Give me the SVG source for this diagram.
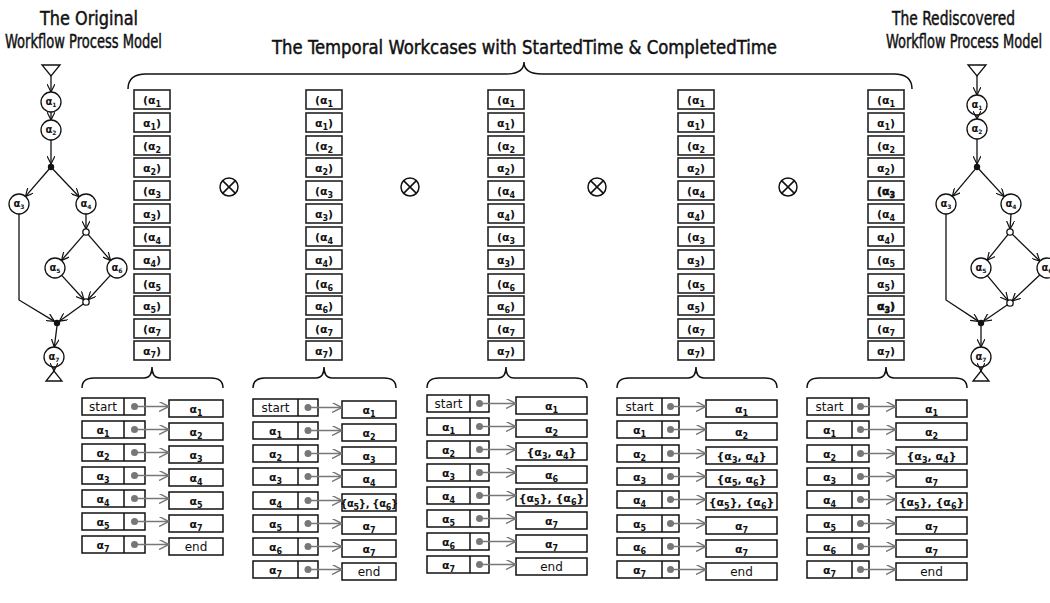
<svg xmlns="http://www.w3.org/2000/svg" width="1050" height="603" viewBox="0 0 1050 603">
<defs>
<style>
.title{font-family:"DejaVu Sans Condensed","DejaVu Sans",sans-serif;font-stretch:condensed;font-size:19px;fill:#111;stroke:#111;stroke-width:0.45}
.cb{fill:#fff;stroke:#222;stroke-width:1.6}
.ct{font-family:"DejaVu Sans",sans-serif;font-size:11px;font-weight:bold;text-anchor:middle;fill:#111}
.s{font-size:8px}
.hb{stroke:#000;stroke-width:0.5}
.tb{fill:#fff;stroke:#111;stroke-width:1.5}
.tt{font-family:"DejaVu Sans",sans-serif;font-size:11px;font-weight:bold;text-anchor:middle;fill:#111}
.tn{font-size:10px;letter-spacing:-0.3px}
.tw{font-weight:normal;font-size:12px}
.dot{fill:#777}
.con{stroke:#777;stroke-width:1.3;fill:none;marker-end:url(#ga)}
.edge{stroke:#111;stroke-width:1.3;fill:none;marker-end:url(#ba)}
.nd{fill:#fff;stroke:#111;stroke-width:1.3}
.nt{font-family:"DejaVu Sans",sans-serif;font-size:10px;font-weight:bold;text-anchor:middle;fill:#111}
.ns{font-size:6px}
.brace{fill:none;stroke:#111;stroke-width:1.5}
.ox{fill:none;stroke:#111;stroke-width:1.5}
</style>
<marker id="ba" viewBox="0 0 10 10" refX="10" refY="5" markerWidth="8" markerHeight="8" markerUnits="userSpaceOnUse" orient="auto"><path d="M0,0 L10,5 L0,10" fill="none" stroke="#111" stroke-width="1.5"/></marker>
<marker id="ga" viewBox="0 0 10 10" refX="10" refY="5" markerWidth="10" markerHeight="10" markerUnits="userSpaceOnUse" orient="auto"><path d="M0,0 L10,5 L0,10" fill="none" stroke="#777" stroke-width="1.4"/></marker>
</defs>
<rect width="1050" height="603" fill="#fff"/>

<g id="titles">
<text class="title" x="40" y="25" textLength="98" lengthAdjust="spacingAndGlyphs">The Original</text>
<text class="title" x="5" y="48" textLength="157" lengthAdjust="spacingAndGlyphs">Workflow Process Model</text>
<text class="title" x="272" y="54" textLength="505" lengthAdjust="spacingAndGlyphs">The Temporal Workcases with StartedTime &amp; CompletedTime</text>
<text class="title" x="892" y="25" textLength="123" lengthAdjust="spacingAndGlyphs">The Rediscovered</text>
<text class="title" x="886" y="48" textLength="156" lengthAdjust="spacingAndGlyphs">Workflow Process Model</text>
</g>

<g id="braces">
<path class="brace" d="M128,89 Q128,74 146,74 L506,74 Q524,74 524,62 Q524,74 542,74 L894,74 Q912,74 912,89"/>
<path class="brace" d="M82,388 Q82,378 94,378 L144,378 Q152,378 152,367 Q152,378 160,378 L211,378 Q223,378 223,388"/>
<path class="brace" d="M253,388 Q253,378 265,378 L316,378 Q324,378 324,367 Q324,378 332,378 L384,378 Q396,378 396,388"/>
<path class="brace" d="M427,388 Q427,378 439,378 L498,378 Q506,378 506,367 Q506,378 514,378 L575,378 Q587,378 587,388"/>
<path class="brace" d="M617,388 Q617,378 629,378 L688,378 Q696,378 696,367 Q696,378 704,378 L765,378 Q777,378 777,388"/>
<path class="brace" d="M807,388 Q807,378 819,378 L878,378 Q886,378 886,367 Q886,378 894,378 L955,378 Q967,378 967,388"/>
</g>

<g id="ops">
<g id="op1"><circle class="ox" cx="229" cy="187" r="9"/><path class="ox" d="M222.6,180.6 L235.4,193.4 M235.4,180.6 L222.6,193.4"/></g>
<g id="op2"><circle class="ox" cx="410" cy="187" r="9"/><path class="ox" d="M403.6,180.6 L416.4,193.4 M416.4,180.6 L403.6,193.4"/></g>
<g id="op3"><circle class="ox" cx="597" cy="187" r="9"/><path class="ox" d="M590.6,180.6 L603.4,193.4 M603.4,180.6 L590.6,193.4"/></g>
<g id="op4"><circle class="ox" cx="788" cy="187" r="9"/><path class="ox" d="M781.6,180.6 L794.4,193.4 M794.4,180.6 L781.6,193.4"/></g>
</g>

<g id="workcase1">
<rect class="cb" x="134" y="90" width="36" height="19"/><text class="ct" x="152" y="104">(α<tspan class="s" dy="3">1</tspan></text>
<rect class="cb" x="134" y="113" width="36" height="19"/><text class="ct" x="152" y="127">α<tspan class="s" dy="3">1</tspan><tspan dy="-3">)</tspan></text>
<rect class="cb" x="134" y="136" width="36" height="19"/><text class="ct" x="152" y="150">(α<tspan class="s" dy="3">2</tspan></text>
<rect class="cb" x="134" y="158" width="36" height="19"/><text class="ct" x="152" y="172">α<tspan class="s" dy="3">2</tspan><tspan dy="-3">)</tspan></text>
<rect class="cb" x="134" y="181" width="36" height="19"/><text class="ct" x="152" y="195">(α<tspan class="s" dy="3">3</tspan></text>
<rect class="cb" x="134" y="204" width="36" height="19"/><text class="ct" x="152" y="218">α<tspan class="s" dy="3">3</tspan><tspan dy="-3">)</tspan></text>
<rect class="cb" x="134" y="227" width="36" height="19"/><text class="ct" x="152" y="241">(α<tspan class="s" dy="3">4</tspan></text>
<rect class="cb" x="134" y="250" width="36" height="19"/><text class="ct" x="152" y="264">α<tspan class="s" dy="3">4</tspan><tspan dy="-3">)</tspan></text>
<rect class="cb" x="134" y="274" width="36" height="19"/><text class="ct" x="152" y="288">(α<tspan class="s" dy="3">5</tspan></text>
<rect class="cb" x="134" y="296" width="36" height="19"/><text class="ct" x="152" y="310">α<tspan class="s" dy="3">5</tspan><tspan dy="-3">)</tspan></text>
<rect class="cb" x="134" y="319" width="36" height="19"/><text class="ct" x="152" y="333">(α<tspan class="s" dy="3">7</tspan></text>
<rect class="cb" x="134" y="341" width="36" height="19"/><text class="ct" x="152" y="355">α<tspan class="s" dy="3">7</tspan><tspan dy="-3">)</tspan></text>
</g>

<g id="workcase2">
<rect class="cb" x="306" y="90" width="36" height="19"/><text class="ct" x="324" y="104">(α<tspan class="s" dy="3">1</tspan></text>
<rect class="cb" x="306" y="113" width="36" height="19"/><text class="ct" x="324" y="127">α<tspan class="s" dy="3">1</tspan><tspan dy="-3">)</tspan></text>
<rect class="cb" x="306" y="136" width="36" height="19"/><text class="ct" x="324" y="150">(α<tspan class="s" dy="3">2</tspan></text>
<rect class="cb" x="306" y="158" width="36" height="19"/><text class="ct" x="324" y="172">α<tspan class="s" dy="3">2</tspan><tspan dy="-3">)</tspan></text>
<rect class="cb" x="306" y="181" width="36" height="19"/><text class="ct" x="324" y="195">(α<tspan class="s" dy="3">3</tspan></text>
<rect class="cb" x="306" y="204" width="36" height="19"/><text class="ct" x="324" y="218">α<tspan class="s" dy="3">3</tspan><tspan dy="-3">)</tspan></text>
<rect class="cb" x="306" y="227" width="36" height="19"/><text class="ct" x="324" y="241">(α<tspan class="s" dy="3">4</tspan></text>
<rect class="cb" x="306" y="250" width="36" height="19"/><text class="ct" x="324" y="264">α<tspan class="s" dy="3">4</tspan><tspan dy="-3">)</tspan></text>
<rect class="cb" x="306" y="274" width="36" height="19"/><text class="ct" x="324" y="288">(α<tspan class="s" dy="3">6</tspan></text>
<rect class="cb" x="306" y="296" width="36" height="19"/><text class="ct" x="324" y="310">α<tspan class="s" dy="3">6</tspan><tspan dy="-3">)</tspan></text>
<rect class="cb" x="306" y="319" width="36" height="19"/><text class="ct" x="324" y="333">(α<tspan class="s" dy="3">7</tspan></text>
<rect class="cb" x="306" y="341" width="36" height="19"/><text class="ct" x="324" y="355">α<tspan class="s" dy="3">7</tspan><tspan dy="-3">)</tspan></text>
</g>

<g id="workcase3">
<rect class="cb" x="488" y="90" width="36" height="19"/><text class="ct" x="506" y="104">(α<tspan class="s" dy="3">1</tspan></text>
<rect class="cb" x="488" y="113" width="36" height="19"/><text class="ct" x="506" y="127">α<tspan class="s" dy="3">1</tspan><tspan dy="-3">)</tspan></text>
<rect class="cb" x="488" y="136" width="36" height="19"/><text class="ct" x="506" y="150">(α<tspan class="s" dy="3">2</tspan></text>
<rect class="cb" x="488" y="158" width="36" height="19"/><text class="ct" x="506" y="172">α<tspan class="s" dy="3">2</tspan><tspan dy="-3">)</tspan></text>
<rect class="cb" x="488" y="181" width="36" height="19"/><text class="ct" x="506" y="195">(α<tspan class="s" dy="3">4</tspan></text>
<rect class="cb" x="488" y="204" width="36" height="19"/><text class="ct" x="506" y="218">α<tspan class="s" dy="3">4</tspan><tspan dy="-3">)</tspan></text>
<rect class="cb" x="488" y="227" width="36" height="19"/><text class="ct" x="506" y="241">(α<tspan class="s" dy="3">3</tspan></text>
<rect class="cb" x="488" y="250" width="36" height="19"/><text class="ct" x="506" y="264">α<tspan class="s" dy="3">3</tspan><tspan dy="-3">)</tspan></text>
<rect class="cb" x="488" y="274" width="36" height="19"/><text class="ct" x="506" y="288">(α<tspan class="s" dy="3">6</tspan></text>
<rect class="cb" x="488" y="296" width="36" height="19"/><text class="ct" x="506" y="310">α<tspan class="s" dy="3">6</tspan><tspan dy="-3">)</tspan></text>
<rect class="cb" x="488" y="319" width="36" height="19"/><text class="ct" x="506" y="333">(α<tspan class="s" dy="3">7</tspan></text>
<rect class="cb" x="488" y="341" width="36" height="19"/><text class="ct" x="506" y="355">α<tspan class="s" dy="3">7</tspan><tspan dy="-3">)</tspan></text>
</g>

<g id="workcase4">
<rect class="cb" x="678" y="90" width="36" height="19"/><text class="ct" x="696" y="104">(α<tspan class="s" dy="3">1</tspan></text>
<rect class="cb" x="678" y="113" width="36" height="19"/><text class="ct" x="696" y="127">α<tspan class="s" dy="3">1</tspan><tspan dy="-3">)</tspan></text>
<rect class="cb" x="678" y="136" width="36" height="19"/><text class="ct" x="696" y="150">(α<tspan class="s" dy="3">2</tspan></text>
<rect class="cb" x="678" y="158" width="36" height="19"/><text class="ct" x="696" y="172">α<tspan class="s" dy="3">2</tspan><tspan dy="-3">)</tspan></text>
<rect class="cb" x="678" y="181" width="36" height="19"/><text class="ct" x="696" y="195">(α<tspan class="s" dy="3">4</tspan></text>
<rect class="cb" x="678" y="204" width="36" height="19"/><text class="ct" x="696" y="218">α<tspan class="s" dy="3">4</tspan><tspan dy="-3">)</tspan></text>
<rect class="cb" x="678" y="227" width="36" height="19"/><text class="ct" x="696" y="241">(α<tspan class="s" dy="3">3</tspan></text>
<rect class="cb" x="678" y="250" width="36" height="19"/><text class="ct" x="696" y="264">α<tspan class="s" dy="3">3</tspan><tspan dy="-3">)</tspan></text>
<rect class="cb" x="678" y="274" width="36" height="19"/><text class="ct" x="696" y="288">(α<tspan class="s" dy="3">5</tspan></text>
<rect class="cb" x="678" y="296" width="36" height="19"/><text class="ct" x="696" y="310">α<tspan class="s" dy="3">5</tspan><tspan dy="-3">)</tspan></text>
<rect class="cb" x="678" y="319" width="36" height="19"/><text class="ct" x="696" y="333">(α<tspan class="s" dy="3">7</tspan></text>
<rect class="cb" x="678" y="341" width="36" height="19"/><text class="ct" x="696" y="355">α<tspan class="s" dy="3">7</tspan><tspan dy="-3">)</tspan></text>
</g>

<g id="workcase5">
<rect class="cb" x="868" y="90" width="36" height="19"/><text class="ct" x="886" y="104">(α<tspan class="s" dy="3">1</tspan></text>
<rect class="cb" x="868" y="113" width="36" height="19"/><text class="ct" x="886" y="127">α<tspan class="s" dy="3">1</tspan><tspan dy="-3">)</tspan></text>
<rect class="cb" x="868" y="136" width="36" height="19"/><text class="ct" x="886" y="150">(α<tspan class="s" dy="3">2</tspan></text>
<rect class="cb" x="868" y="158" width="36" height="19"/><text class="ct" x="886" y="172">α<tspan class="s" dy="3">2</tspan><tspan dy="-3">)</tspan></text>
<rect class="cb" x="868" y="181" width="36" height="19"/><text class="ct hb" x="886" y="195">(α<tspan class="s" dy="3">3</tspan></text>
<rect class="cb" x="868" y="204" width="36" height="19"/><text class="ct" x="886" y="218">(α<tspan class="s" dy="3">4</tspan></text>
<rect class="cb" x="868" y="227" width="36" height="19"/><text class="ct" x="886" y="241">α<tspan class="s" dy="3">4</tspan><tspan dy="-3">)</tspan></text>
<rect class="cb" x="868" y="250" width="36" height="19"/><text class="ct" x="886" y="264">(α<tspan class="s" dy="3">5</tspan></text>
<rect class="cb" x="868" y="274" width="36" height="19"/><text class="ct" x="886" y="288">α<tspan class="s" dy="3">5</tspan><tspan dy="-3">)</tspan></text>
<rect class="cb" x="868" y="296" width="36" height="19"/><text class="ct hb" x="886" y="310">α<tspan class="s" dy="3">3</tspan><tspan dy="-3">)</tspan></text>
<rect class="cb" x="868" y="319" width="36" height="19"/><text class="ct" x="886" y="333">(α<tspan class="s" dy="3">7</tspan></text>
<rect class="cb" x="868" y="341" width="36" height="19"/><text class="ct" x="886" y="355">α<tspan class="s" dy="3">7</tspan><tspan dy="-3">)</tspan></text>
</g>

<g id="original-model">
<polygon id="o-start" class="nd" points="42,65 60,65 51,76"/>
<g id="o-a1"><circle class="nd" cx="51" cy="102" r="10"/><text class="nt" x="51" y="105">α<tspan class="ns" dy="2">1</tspan></text></g>
<g id="o-a2"><circle class="nd" cx="51" cy="130" r="10"/><text class="nt" x="51" y="133">α<tspan class="ns" dy="2">2</tspan></text></g>
<circle id="o-and1" cx="51" cy="167" r="3.2" fill="#111"/>
<g id="o-a3"><circle class="nd" cx="19" cy="204" r="10"/><text class="nt" x="19" y="207">α<tspan class="ns" dy="2">3</tspan></text></g>
<g id="o-a4"><circle class="nd" cx="86" cy="204" r="10"/><text class="nt" x="86" y="207">α<tspan class="ns" dy="2">4</tspan></text></g>
<circle id="o-or1" class="nd" cx="86" cy="232" r="3.2"/>
<g id="o-a5"><circle class="nd" cx="55" cy="268" r="10"/><text class="nt" x="55" y="271">α<tspan class="ns" dy="2">5</tspan></text></g>
<g id="o-a6"><circle class="nd" cx="117" cy="268" r="10"/><text class="nt" x="117" y="271">α<tspan class="ns" dy="2">6</tspan></text></g>
<circle id="o-or2" class="nd" cx="86" cy="302" r="3.2"/>
<circle id="o-and2" cx="57" cy="323" r="3.2" fill="#111"/>
<g id="o-a7"><circle class="nd" cx="54" cy="357" r="10"/><text class="nt" x="54" y="360">α<tspan class="ns" dy="2">7</tspan></text></g>
<polygon id="o-end" class="nd" points="54,371 46,381 62,381"/>
</g>

<g id="rediscovered-model">
<polygon id="r-start" class="nd" points="968,65 986,65 977,76"/>
<g id="r-a1"><circle class="nd" cx="977" cy="105" r="10"/><text class="nt" x="977" y="108">α<tspan class="ns" dy="2">1</tspan></text></g>
<g id="r-a2"><circle class="nd" cx="977" cy="129" r="10"/><text class="nt" x="977" y="132">α<tspan class="ns" dy="2">2</tspan></text></g>
<circle id="r-and1" cx="977" cy="167" r="3.2" fill="#111"/>
<g id="r-a3"><circle class="nd" cx="946" cy="204" r="10"/><text class="nt" x="946" y="207">α<tspan class="ns" dy="2">3</tspan></text></g>
<g id="r-a4"><circle class="nd" cx="1011" cy="204" r="10"/><text class="nt" x="1011" y="207">α<tspan class="ns" dy="2">4</tspan></text></g>
<circle id="r-or1" class="nd" cx="1010" cy="232" r="3.2"/>
<g id="r-a5"><circle class="nd" cx="981" cy="268" r="10"/><text class="nt" x="981" y="271">α<tspan class="ns" dy="2">5</tspan></text></g>
<g id="r-a6"><circle class="nd" cx="1047" cy="268" r="10"/><text class="nt" x="1047" y="271">α<tspan class="ns" dy="2">6</tspan></text></g>
<circle id="r-or2" class="nd" cx="1010" cy="303" r="3.2"/>
<circle id="r-and2" cx="981" cy="323" r="3.2" fill="#111"/>
<g id="r-a7"><circle class="nd" cx="981" cy="357" r="10"/><text class="nt" x="981" y="360">α<tspan class="ns" dy="2">7</tspan></text></g>
<polygon id="r-end" class="nd" points="981,371 973,381 989,381"/>
</g>

<g id="table1">
<rect class="tb" x="82" y="398" width="63" height="17"/><line class="tb" x1="124" y1="398" x2="124" y2="415"/><text class="tt tw" x="103" y="411">start</text><circle class="dot" cx="134.5" cy="406.5" r="3.5"/><rect class="tb" x="169" y="400" width="54" height="17"/><text class="tt" x="196" y="413">α<tspan class="s" dy="3">1</tspan></text>
<rect class="tb" x="82" y="421" width="63" height="17"/><line class="tb" x1="124" y1="421" x2="124" y2="438"/><text class="tt" x="103" y="434">α<tspan class="s" dy="3">1</tspan></text><circle class="dot" cx="134.5" cy="429.5" r="3.5"/><rect class="tb" x="169" y="423" width="54" height="17"/><text class="tt" x="196" y="436">α<tspan class="s" dy="3">2</tspan></text>
<rect class="tb" x="82" y="444" width="63" height="17"/><line class="tb" x1="124" y1="444" x2="124" y2="461"/><text class="tt" x="103" y="457">α<tspan class="s" dy="3">2</tspan></text><circle class="dot" cx="134.5" cy="452.5" r="3.5"/><rect class="tb" x="169" y="446" width="54" height="17"/><text class="tt" x="196" y="459">α<tspan class="s" dy="3">3</tspan></text>
<rect class="tb" x="82" y="467" width="63" height="17"/><line class="tb" x1="124" y1="467" x2="124" y2="484"/><text class="tt" x="103" y="480">α<tspan class="s" dy="3">3</tspan></text><circle class="dot" cx="134.5" cy="475.5" r="3.5"/><rect class="tb" x="169" y="469" width="54" height="17"/><text class="tt" x="196" y="482">α<tspan class="s" dy="3">4</tspan></text>
<rect class="tb" x="82" y="490" width="63" height="17"/><line class="tb" x1="124" y1="490" x2="124" y2="507"/><text class="tt" x="103" y="503">α<tspan class="s" dy="3">4</tspan></text><circle class="dot" cx="134.5" cy="498.5" r="3.5"/><rect class="tb" x="169" y="492" width="54" height="17"/><text class="tt" x="196" y="505">α<tspan class="s" dy="3">5</tspan></text>
<rect class="tb" x="82" y="513" width="63" height="17"/><line class="tb" x1="124" y1="513" x2="124" y2="530"/><text class="tt" x="103" y="526">α<tspan class="s" dy="3">5</tspan></text><circle class="dot" cx="134.5" cy="521.5" r="3.5"/><rect class="tb" x="169" y="515" width="54" height="17"/><text class="tt" x="196" y="528">α<tspan class="s" dy="3">7</tspan></text>
<rect class="tb" x="82" y="536" width="63" height="17"/><line class="tb" x1="124" y1="536" x2="124" y2="553"/><text class="tt" x="103" y="549">α<tspan class="s" dy="3">7</tspan></text><circle class="dot" cx="134.5" cy="544.5" r="3.5"/><rect class="tb" x="169" y="538" width="54" height="17"/><text class="tt tw" x="196" y="551">end</text>
</g>

<g id="table2">
<rect class="tb" x="253" y="399" width="65" height="17"/><line class="tb" x1="298" y1="399" x2="298" y2="416"/><text class="tt tw" x="275.5" y="412">start</text><circle class="dot" cx="308" cy="407.5" r="3.5"/><rect class="tb" x="342" y="401" width="54" height="17"/><text class="tt" x="369" y="414">α<tspan class="s" dy="3">1</tspan></text>
<rect class="tb" x="253" y="422" width="65" height="17"/><line class="tb" x1="298" y1="422" x2="298" y2="439"/><text class="tt" x="275.5" y="435">α<tspan class="s" dy="3">1</tspan></text><circle class="dot" cx="308" cy="430.5" r="3.5"/><rect class="tb" x="342" y="424" width="54" height="17"/><text class="tt" x="369" y="437">α<tspan class="s" dy="3">2</tspan></text>
<rect class="tb" x="253" y="445" width="65" height="17"/><line class="tb" x1="298" y1="445" x2="298" y2="462"/><text class="tt" x="275.5" y="458">α<tspan class="s" dy="3">2</tspan></text><circle class="dot" cx="308" cy="453.5" r="3.5"/><rect class="tb" x="342" y="447" width="54" height="17"/><text class="tt" x="369" y="460">α<tspan class="s" dy="3">3</tspan></text>
<rect class="tb" x="253" y="468" width="65" height="17"/><line class="tb" x1="298" y1="468" x2="298" y2="485"/><text class="tt" x="275.5" y="481">α<tspan class="s" dy="3">3</tspan></text><circle class="dot" cx="308" cy="476.5" r="3.5"/><rect class="tb" x="342" y="470" width="54" height="17"/><text class="tt" x="369" y="483">α<tspan class="s" dy="3">4</tspan></text>
<rect class="tb" x="253" y="492" width="65" height="17"/><line class="tb" x1="298" y1="492" x2="298" y2="509"/><text class="tt" x="275.5" y="505">α<tspan class="s" dy="3">4</tspan></text><circle class="dot" cx="308" cy="500.5" r="3.5"/><rect class="tb" x="342" y="494" width="54" height="17"/><text class="tt tn" x="369" y="507">{α<tspan class="s" dy="3">5</tspan><tspan dy="-3">}, {α</tspan><tspan class="s" dy="3">6</tspan><tspan dy="-3">}</tspan></text>
<rect class="tb" x="253" y="515" width="65" height="17"/><line class="tb" x1="298" y1="515" x2="298" y2="532"/><text class="tt" x="275.5" y="528">α<tspan class="s" dy="3">5</tspan></text><circle class="dot" cx="308" cy="523.5" r="3.5"/><rect class="tb" x="342" y="517" width="54" height="17"/><text class="tt" x="369" y="530">α<tspan class="s" dy="3">7</tspan></text>
<rect class="tb" x="253" y="538" width="65" height="17"/><line class="tb" x1="298" y1="538" x2="298" y2="555"/><text class="tt" x="275.5" y="551">α<tspan class="s" dy="3">6</tspan></text><circle class="dot" cx="308" cy="546.5" r="3.5"/><rect class="tb" x="342" y="540" width="54" height="17"/><text class="tt" x="369" y="553">α<tspan class="s" dy="3">7</tspan></text>
<rect class="tb" x="253" y="561" width="65" height="17"/><line class="tb" x1="298" y1="561" x2="298" y2="578"/><text class="tt" x="275.5" y="574">α<tspan class="s" dy="3">7</tspan></text><circle class="dot" cx="308" cy="569.5" r="3.5"/><rect class="tb" x="342" y="563" width="54" height="17"/><text class="tt tw" x="369" y="576">end</text>
</g>

<g id="table3">
<rect class="tb" x="427" y="395" width="62" height="17"/><line class="tb" x1="470" y1="395" x2="470" y2="412"/><text class="tt tw" x="448.5" y="408">start</text><circle class="dot" cx="479.5" cy="403.5" r="3.5"/><rect class="tb" x="516" y="397" width="71" height="17"/><text class="tt" x="551.5" y="410">α<tspan class="s" dy="3">1</tspan></text>
<rect class="tb" x="427" y="418" width="62" height="17"/><line class="tb" x1="470" y1="418" x2="470" y2="435"/><text class="tt" x="448.5" y="431">α<tspan class="s" dy="3">1</tspan></text><circle class="dot" cx="479.5" cy="426.5" r="3.5"/><rect class="tb" x="516" y="420" width="71" height="17"/><text class="tt" x="551.5" y="433">α<tspan class="s" dy="3">2</tspan></text>
<rect class="tb" x="427" y="441" width="62" height="17"/><line class="tb" x1="470" y1="441" x2="470" y2="458"/><text class="tt" x="448.5" y="454">α<tspan class="s" dy="3">2</tspan></text><circle class="dot" cx="479.5" cy="449.5" r="3.5"/><rect class="tb" x="516" y="443" width="71" height="17"/><text class="tt" x="551.5" y="456">{α<tspan class="s" dy="3">3</tspan><tspan dy="-3">, α</tspan><tspan class="s" dy="3">4</tspan><tspan dy="-3">}</tspan></text>
<rect class="tb" x="427" y="464" width="62" height="17"/><line class="tb" x1="470" y1="464" x2="470" y2="481"/><text class="tt" x="448.5" y="477">α<tspan class="s" dy="3">3</tspan></text><circle class="dot" cx="479.5" cy="472.5" r="3.5"/><rect class="tb" x="516" y="466" width="71" height="17"/><text class="tt" x="551.5" y="479">α<tspan class="s" dy="3">6</tspan></text>
<rect class="tb" x="427" y="487" width="62" height="17"/><line class="tb" x1="470" y1="487" x2="470" y2="504"/><text class="tt" x="448.5" y="500">α<tspan class="s" dy="3">4</tspan></text><circle class="dot" cx="479.5" cy="495.5" r="3.5"/><rect class="tb" x="516" y="489" width="71" height="17"/><text class="tt" x="551.5" y="502">{α<tspan class="s" dy="3">5</tspan><tspan dy="-3">}, {α</tspan><tspan class="s" dy="3">6</tspan><tspan dy="-3">}</tspan></text>
<rect class="tb" x="427" y="510" width="62" height="17"/><line class="tb" x1="470" y1="510" x2="470" y2="527"/><text class="tt" x="448.5" y="523">α<tspan class="s" dy="3">5</tspan></text><circle class="dot" cx="479.5" cy="518.5" r="3.5"/><rect class="tb" x="516" y="512" width="71" height="17"/><text class="tt" x="551.5" y="525">α<tspan class="s" dy="3">7</tspan></text>
<rect class="tb" x="427" y="533" width="62" height="17"/><line class="tb" x1="470" y1="533" x2="470" y2="550"/><text class="tt" x="448.5" y="546">α<tspan class="s" dy="3">6</tspan></text><circle class="dot" cx="479.5" cy="541.5" r="3.5"/><rect class="tb" x="516" y="535" width="71" height="17"/><text class="tt" x="551.5" y="548">α<tspan class="s" dy="3">7</tspan></text>
<rect class="tb" x="427" y="556" width="62" height="17"/><line class="tb" x1="470" y1="556" x2="470" y2="573"/><text class="tt" x="448.5" y="569">α<tspan class="s" dy="3">7</tspan></text><circle class="dot" cx="479.5" cy="564.5" r="3.5"/><rect class="tb" x="516" y="558" width="71" height="17"/><text class="tt tw" x="551.5" y="571">end</text>
</g>

<g id="table4">
<rect class="tb" x="617" y="398" width="62" height="17"/><line class="tb" x1="662" y1="398" x2="662" y2="415"/><text class="tt tw" x="639.5" y="411">start</text><circle class="dot" cx="670.5" cy="406.5" r="3.5"/><rect class="tb" x="706" y="400" width="71" height="17"/><text class="tt" x="741.5" y="413">α<tspan class="s" dy="3">1</tspan></text>
<rect class="tb" x="617" y="421" width="62" height="17"/><line class="tb" x1="662" y1="421" x2="662" y2="438"/><text class="tt" x="639.5" y="434">α<tspan class="s" dy="3">1</tspan></text><circle class="dot" cx="670.5" cy="429.5" r="3.5"/><rect class="tb" x="706" y="423" width="71" height="17"/><text class="tt" x="741.5" y="436">α<tspan class="s" dy="3">2</tspan></text>
<rect class="tb" x="617" y="445" width="62" height="17"/><line class="tb" x1="662" y1="445" x2="662" y2="462"/><text class="tt" x="639.5" y="458">α<tspan class="s" dy="3">2</tspan></text><circle class="dot" cx="670.5" cy="453.5" r="3.5"/><rect class="tb" x="706" y="447" width="71" height="17"/><text class="tt" x="741.5" y="460">{α<tspan class="s" dy="3">3</tspan><tspan dy="-3">, α</tspan><tspan class="s" dy="3">4</tspan><tspan dy="-3">}</tspan></text>
<rect class="tb" x="617" y="468" width="62" height="17"/><line class="tb" x1="662" y1="468" x2="662" y2="485"/><text class="tt" x="639.5" y="481">α<tspan class="s" dy="3">3</tspan></text><circle class="dot" cx="670.5" cy="476.5" r="3.5"/><rect class="tb" x="706" y="470" width="71" height="17"/><text class="tt" x="741.5" y="483">{α<tspan class="s" dy="3">5</tspan><tspan dy="-3">, α</tspan><tspan class="s" dy="3">6</tspan><tspan dy="-3">}</tspan></text>
<rect class="tb" x="617" y="491" width="62" height="17"/><line class="tb" x1="662" y1="491" x2="662" y2="508"/><text class="tt" x="639.5" y="504">α<tspan class="s" dy="3">4</tspan></text><circle class="dot" cx="670.5" cy="499.5" r="3.5"/><rect class="tb" x="706" y="493" width="71" height="17"/><text class="tt" x="741.5" y="506">{α<tspan class="s" dy="3">5</tspan><tspan dy="-3">}, {α</tspan><tspan class="s" dy="3">6</tspan><tspan dy="-3">}</tspan></text>
<rect class="tb" x="617" y="515" width="62" height="17"/><line class="tb" x1="662" y1="515" x2="662" y2="532"/><text class="tt" x="639.5" y="528">α<tspan class="s" dy="3">5</tspan></text><circle class="dot" cx="670.5" cy="523.5" r="3.5"/><rect class="tb" x="706" y="517" width="71" height="17"/><text class="tt" x="741.5" y="530">α<tspan class="s" dy="3">7</tspan></text>
<rect class="tb" x="617" y="538" width="62" height="17"/><line class="tb" x1="662" y1="538" x2="662" y2="555"/><text class="tt" x="639.5" y="551">α<tspan class="s" dy="3">6</tspan></text><circle class="dot" cx="670.5" cy="546.5" r="3.5"/><rect class="tb" x="706" y="540" width="71" height="17"/><text class="tt" x="741.5" y="553">α<tspan class="s" dy="3">7</tspan></text>
<rect class="tb" x="617" y="561" width="62" height="17"/><line class="tb" x1="662" y1="561" x2="662" y2="578"/><text class="tt" x="639.5" y="574">α<tspan class="s" dy="3">7</tspan></text><circle class="dot" cx="670.5" cy="569.5" r="3.5"/><rect class="tb" x="706" y="563" width="71" height="17"/><text class="tt tw" x="741.5" y="576">end</text>
</g>

<g id="table5">
<rect class="tb" x="807" y="398" width="62" height="17"/><line class="tb" x1="852" y1="398" x2="852" y2="415"/><text class="tt tw" x="829.5" y="411">start</text><circle class="dot" cx="860.5" cy="406.5" r="3.5"/><rect class="tb" x="896" y="400" width="71" height="17"/><text class="tt" x="931.5" y="413">α<tspan class="s" dy="3">1</tspan></text>
<rect class="tb" x="807" y="421" width="62" height="17"/><line class="tb" x1="852" y1="421" x2="852" y2="438"/><text class="tt" x="829.5" y="434">α<tspan class="s" dy="3">1</tspan></text><circle class="dot" cx="860.5" cy="429.5" r="3.5"/><rect class="tb" x="896" y="423" width="71" height="17"/><text class="tt" x="931.5" y="436">α<tspan class="s" dy="3">2</tspan></text>
<rect class="tb" x="807" y="445" width="62" height="17"/><line class="tb" x1="852" y1="445" x2="852" y2="462"/><text class="tt" x="829.5" y="458">α<tspan class="s" dy="3">2</tspan></text><circle class="dot" cx="860.5" cy="453.5" r="3.5"/><rect class="tb" x="896" y="447" width="71" height="17"/><text class="tt" x="931.5" y="460">{α<tspan class="s" dy="3">3</tspan><tspan dy="-3">, α</tspan><tspan class="s" dy="3">4</tspan><tspan dy="-3">}</tspan></text>
<rect class="tb" x="807" y="468" width="62" height="17"/><line class="tb" x1="852" y1="468" x2="852" y2="485"/><text class="tt" x="829.5" y="481">α<tspan class="s" dy="3">3</tspan></text><circle class="dot" cx="860.5" cy="476.5" r="3.5"/><rect class="tb" x="896" y="470" width="71" height="17"/><text class="tt" x="931.5" y="483">α<tspan class="s" dy="3">7</tspan></text>
<rect class="tb" x="807" y="491" width="62" height="17"/><line class="tb" x1="852" y1="491" x2="852" y2="508"/><text class="tt" x="829.5" y="504">α<tspan class="s" dy="3">4</tspan></text><circle class="dot" cx="860.5" cy="499.5" r="3.5"/><rect class="tb" x="896" y="493" width="71" height="17"/><text class="tt" x="931.5" y="506">{α<tspan class="s" dy="3">5</tspan><tspan dy="-3">}, {α</tspan><tspan class="s" dy="3">6</tspan><tspan dy="-3">}</tspan></text>
<rect class="tb" x="807" y="515" width="62" height="17"/><line class="tb" x1="852" y1="515" x2="852" y2="532"/><text class="tt" x="829.5" y="528">α<tspan class="s" dy="3">5</tspan></text><circle class="dot" cx="860.5" cy="523.5" r="3.5"/><rect class="tb" x="896" y="517" width="71" height="17"/><text class="tt" x="931.5" y="530">α<tspan class="s" dy="3">7</tspan></text>
<rect class="tb" x="807" y="538" width="62" height="17"/><line class="tb" x1="852" y1="538" x2="852" y2="555"/><text class="tt" x="829.5" y="551">α<tspan class="s" dy="3">6</tspan></text><circle class="dot" cx="860.5" cy="546.5" r="3.5"/><rect class="tb" x="896" y="540" width="71" height="17"/><text class="tt" x="931.5" y="553">α<tspan class="s" dy="3">7</tspan></text>
<rect class="tb" x="807" y="561" width="62" height="17"/><line class="tb" x1="852" y1="561" x2="852" y2="578"/><text class="tt" x="829.5" y="574">α<tspan class="s" dy="3">7</tspan></text><circle class="dot" cx="860.5" cy="569.5" r="3.5"/><rect class="tb" x="896" y="563" width="71" height="17"/><text class="tt tw" x="931.5" y="576">end</text>
</g>

<g id="connectors">
<path class="edge" d="M51,76 L51,92"/>
<path class="edge" d="M51,112 L51,120"/>
<path class="edge" d="M51,140 L51,164"/>
<path class="edge" d="M49,169.3 L25.5,196.4"/>
<path class="edge" d="M53,169.2 L79.1,196.7"/>
<path class="edge" d="M86,214 L86,229"/>
<path class="edge" d="M84,234.3 L61.5,260.4"/>
<path class="edge" d="M88,234.3 L110.5,260.4"/>
<path class="edge" d="M61.7,275.4 L84,299.8"/>
<path class="edge" d="M110.3,275.4 L88,299.8"/>
<path class="edge" d="M19,214 L19,300 L54.4,321.4"/>
<path class="edge" d="M83.6,303.8 L59.4,321.2"/>
<path class="edge" d="M57,326 L54.3,347"/>
<path class="edge" d="M54,367 L54,371"/>

<path class="edge" d="M977,76 L977,95"/>
<path class="edge" d="M977,115 L977,119"/>
<path class="edge" d="M977,139 L977,164"/>
<path class="edge" d="M975,169.3 L952.4,196.3"/>
<path class="edge" d="M979,169.2 L1004.2,196.6"/>
<path class="edge" d="M1011,214 L1010,229"/>
<path class="edge" d="M1008.1,234.3 L987.3,260.2"/>
<path class="edge" d="M1012.2,234.1 L1039.8,261"/>
<path class="edge" d="M987.4,275.7 L1008.1,300.7"/>
<path class="edge" d="M1039.7,275 L1012.2,301"/>
<path class="edge" d="M946,214 L946,300 L978.5,321.4"/>
<path class="edge" d="M1007.5,304.7 L983.5,321.3"/>
<path class="edge" d="M981,326 L981,347"/>
<path class="edge" d="M981,367 L981,371"/>

<path class="con" d="M134.5,406.5 H169"/><path class="con" d="M134.5,429.5 H169"/><path class="con" d="M134.5,452.5 H169"/><path class="con" d="M134.5,475.5 H169"/><path class="con" d="M134.5,498.5 H169"/><path class="con" d="M134.5,521.5 H169"/><path class="con" d="M134.5,544.5 H169"/>
<path class="con" d="M308,407.5 H342"/><path class="con" d="M308,430.5 H342"/><path class="con" d="M308,453.5 H342"/><path class="con" d="M308,476.5 H342"/><path class="con" d="M308,500.5 H342"/><path class="con" d="M308,523.5 H342"/><path class="con" d="M308,546.5 H342"/><path class="con" d="M308,569.5 H342"/>
<path class="con" d="M479.5,403.5 H516"/><path class="con" d="M479.5,426.5 H516"/><path class="con" d="M479.5,449.5 H516"/><path class="con" d="M479.5,472.5 H516"/><path class="con" d="M479.5,495.5 H516"/><path class="con" d="M479.5,518.5 H516"/><path class="con" d="M479.5,541.5 H516"/><path class="con" d="M479.5,564.5 H516"/>
<path class="con" d="M670.5,406.5 H706"/><path class="con" d="M670.5,429.5 H706"/><path class="con" d="M670.5,453.5 H706"/><path class="con" d="M670.5,476.5 H706"/><path class="con" d="M670.5,499.5 H706"/><path class="con" d="M670.5,523.5 H706"/><path class="con" d="M670.5,546.5 H706"/><path class="con" d="M670.5,569.5 H706"/>
<path class="con" d="M860.5,406.5 H896"/><path class="con" d="M860.5,429.5 H896"/><path class="con" d="M860.5,453.5 H896"/><path class="con" d="M860.5,476.5 H896"/><path class="con" d="M860.5,499.5 H896"/><path class="con" d="M860.5,523.5 H896"/><path class="con" d="M860.5,546.5 H896"/><path class="con" d="M860.5,569.5 H896"/>
</g>
</svg>
